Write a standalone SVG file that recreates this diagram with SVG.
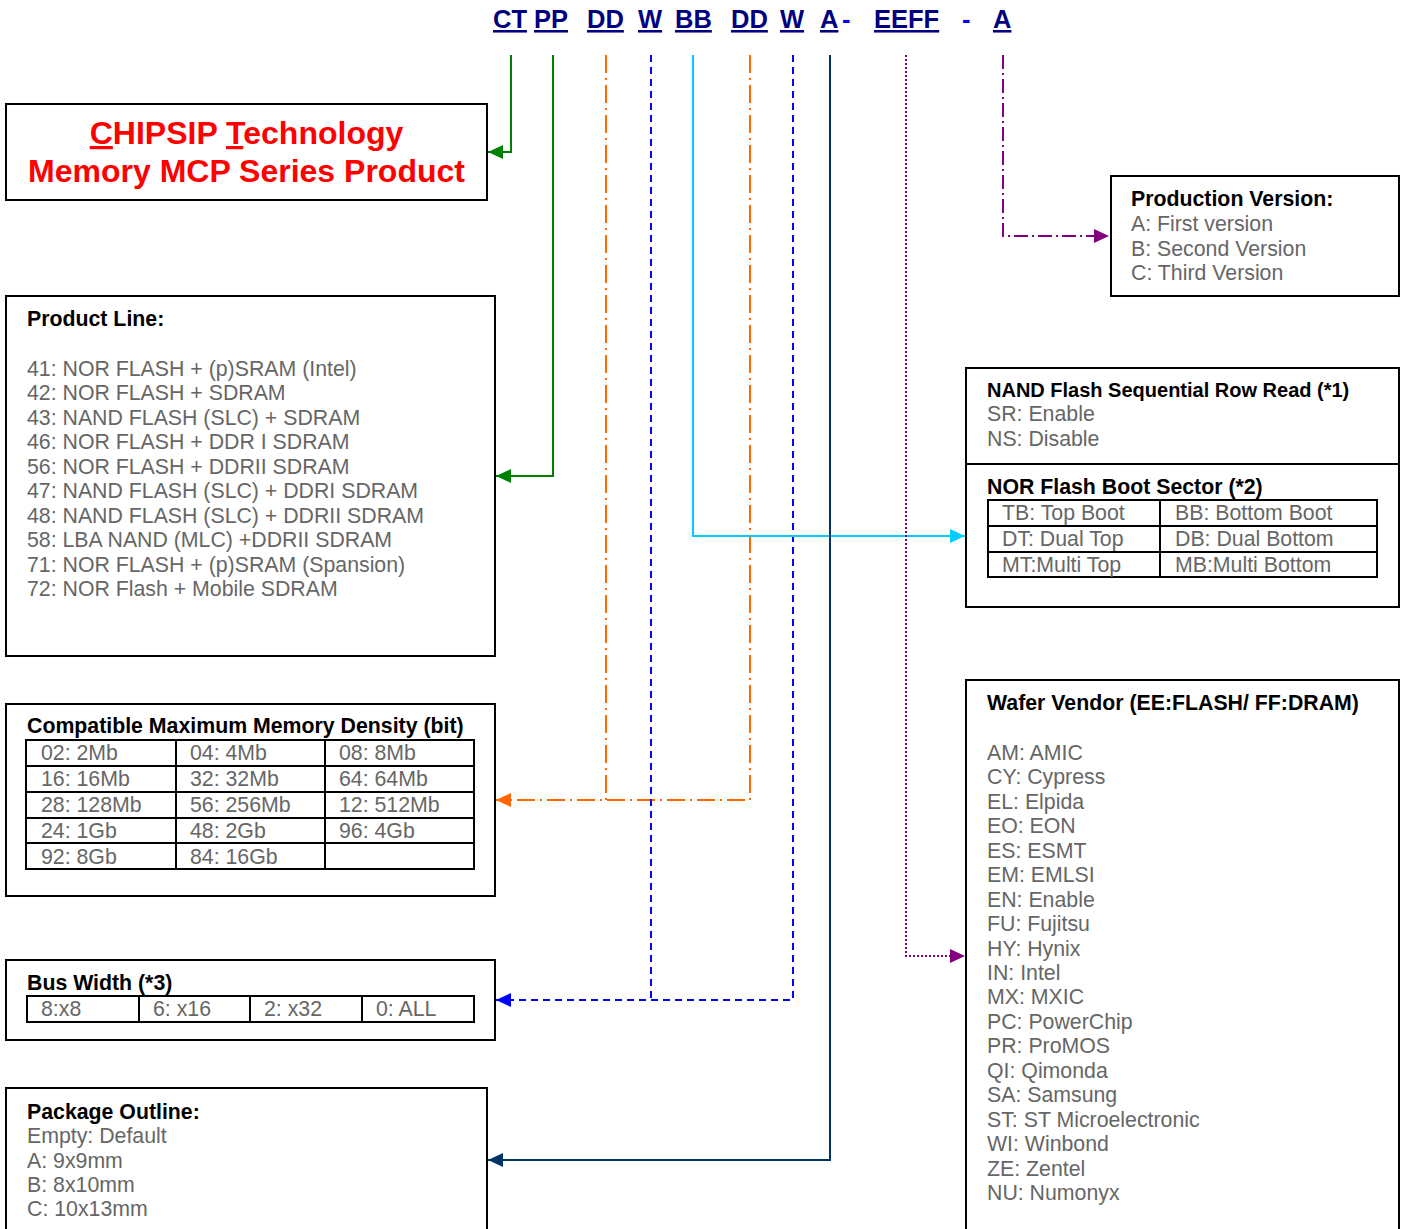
<svg xmlns="http://www.w3.org/2000/svg" width="1405" height="1229" viewBox="0 0 1405 1229">
<style>
text{font-family:"Liberation Sans",Arial,Helvetica,sans-serif;}
.box{fill:#fff;stroke:#000;stroke-width:2;}
.cell{fill:none;stroke:#000;stroke-width:2;}
.hd{font-size:21.3px;font-weight:bold;fill:#000;}
.hs{font-size:20px;font-weight:bold;fill:#000;}
.it{font-size:21.3px;fill:#666;}
.code{font-size:25.5px;font-weight:bold;fill:#000080;text-decoration:underline;}
.dash{font-size:25.5px;font-weight:bold;fill:#0000FF;}
.ttl{font-size:32px;font-weight:bold;fill:#FF0000;}
.c{fill:none;stroke-width:2;}
</style>
<defs>
<marker id="aG" markerUnits="userSpaceOnUse" markerWidth="16" markerHeight="14" refX="15" refY="7" orient="auto"><path d="M0,0 L15,7 L0,14 z" fill="#008000"/></marker>
<marker id="aO" markerUnits="userSpaceOnUse" markerWidth="16" markerHeight="14" refX="15" refY="7" orient="auto"><path d="M0,0 L15,7 L0,14 z" fill="#FF6600"/></marker>
<marker id="aB" markerUnits="userSpaceOnUse" markerWidth="16" markerHeight="14" refX="15" refY="7" orient="auto"><path d="M0,0 L15,7 L0,14 z" fill="#0000FF"/></marker>
<marker id="aC" markerUnits="userSpaceOnUse" markerWidth="16" markerHeight="14" refX="15" refY="7" orient="auto"><path d="M0,0 L15,7 L0,14 z" fill="#00CCFF"/></marker>
<marker id="aN" markerUnits="userSpaceOnUse" markerWidth="16" markerHeight="14" refX="15" refY="7" orient="auto"><path d="M0,0 L15,7 L0,14 z" fill="#003366"/></marker>
<marker id="aP" markerUnits="userSpaceOnUse" markerWidth="16" markerHeight="14" refX="15" refY="7" orient="auto"><path d="M0,0 L15,7 L0,14 z" fill="#800080"/></marker>
</defs>
<rect width="1405" height="1229" fill="#fff"/>

<g id="header">
<text class="code" x="493" y="28">CT</text>
<text class="code" x="534" y="28">PP</text>
<text class="code" x="587" y="28">DD</text>
<text class="code" x="638" y="28">W</text>
<text class="code" x="675" y="28">BB</text>
<text class="code" x="731" y="28">DD</text>
<text class="code" x="780" y="28">W</text>
<text class="code" x="820" y="28">A</text>
<text class="dash" x="842" y="28">-</text>
<text class="code" x="874" y="28">EEFF</text>
<text class="dash" x="962" y="28">-</text>
<text class="code" x="993" y="28">A</text>
</g>

<g id="connectors">
<path class="c" stroke="#008000" d="M511,55 V152 H488" marker-end="url(#aG)"/>
<path class="c" stroke="#008000" d="M553,55 V476 H496" marker-end="url(#aG)"/>
<path class="c" stroke="#FF6600" stroke-dasharray="18,5,2,5" d="M606,55 V800"/>
<path class="c" stroke="#FF6600" stroke-dasharray="18,5,2,5" d="M750,55 V800 H496" marker-end="url(#aO)"/>
<path class="c" stroke="#0000FF" stroke-dasharray="7,5" d="M651,55 V1000"/>
<path class="c" stroke="#0000FF" stroke-dasharray="7,5" d="M793,55 V1000 H496" marker-end="url(#aB)"/>
<path class="c" stroke="#00CCFF" d="M693,55 V536 H965" marker-end="url(#aC)"/>
<path class="c" stroke="#003366" d="M830,55 V1160 H488" marker-end="url(#aN)"/>
<path class="c" stroke="#800080" stroke-dasharray="2,2" d="M906,55 V956 H965" marker-end="url(#aP)"/>
<path class="c" stroke="#800080" stroke-dasharray="14,4,2,4" d="M1003,55 V236 H1109" marker-end="url(#aP)"/>
</g>

<g id="title">
<rect class="box" x="6" y="104" width="481" height="96"/>
<text class="ttl" x="246.5" y="144" text-anchor="middle"><tspan text-decoration="underline">C</tspan>HIPSIP <tspan text-decoration="underline">T</tspan>echnology</text>
<text class="ttl" x="246.5" y="182" text-anchor="middle">Memory MCP Series Product</text>
</g>

<g id="product-line">
<rect class="box" x="6" y="296" width="489" height="360"/>
<text class="hd" x="27" y="326">Product Line:</text>
<text class="it" x="27" y="376">41: NOR FLASH + (p)SRAM (Intel)</text>
<text class="it" x="27" y="400.4">42: NOR FLASH + SDRAM</text>
<text class="it" x="27" y="424.9">43: NAND FLASH (SLC) + SDRAM</text>
<text class="it" x="27" y="449.3">46: NOR FLASH + DDR I SDRAM</text>
<text class="it" x="27" y="473.8">56: NOR FLASH + DDRII SDRAM</text>
<text class="it" x="27" y="498.2">47: NAND FLASH (SLC) + DDRI SDRAM</text>
<text class="it" x="27" y="522.6">48: NAND FLASH (SLC) + DDRII SDRAM</text>
<text class="it" x="27" y="547.1">58: LBA NAND (MLC) +DDRII SDRAM</text>
<text class="it" x="27" y="571.5">71: NOR FLASH + (p)SRAM (Spansion)</text>
<text class="it" x="27" y="596">72: NOR Flash + Mobile SDRAM</text>
</g>

<g id="density">
<rect class="box" x="6" y="704" width="489" height="192"/>
<text class="hd" x="27" y="733">Compatible Maximum Memory Density (bit)</text>
<rect class="cell" x="26" y="740" width="448" height="129"/>
<path class="cell" d="M26,766 H474 M26,792 H474 M26,818 H474 M26,843 H474 M176,740 V869 M325,740 V869"/>
<text class="it" x="41" y="760">02: 2Mb</text>
<text class="it" x="190" y="760">04: 4Mb</text>
<text class="it" x="339" y="760">08: 8Mb</text>
<text class="it" x="41" y="786">16: 16Mb</text>
<text class="it" x="190" y="786">32: 32Mb</text>
<text class="it" x="339" y="786">64: 64Mb</text>
<text class="it" x="41" y="812">28: 128Mb</text>
<text class="it" x="190" y="812">56: 256Mb</text>
<text class="it" x="339" y="812">12: 512Mb</text>
<text class="it" x="41" y="838">24: 1Gb</text>
<text class="it" x="190" y="838">48: 2Gb</text>
<text class="it" x="339" y="838">96: 4Gb</text>
<text class="it" x="41" y="864">92: 8Gb</text>
<text class="it" x="190" y="864">84: 16Gb</text>
</g>

<g id="bus-width">
<rect class="box" x="6" y="960" width="489" height="80"/>
<text class="hd" x="27" y="990">Bus Width (*3)</text>
<rect class="cell" x="27" y="996" width="447" height="26"/>
<path class="cell" d="M139,996 V1022 M250,996 V1022 M362,996 V1022"/>
<text class="it" x="41" y="1016">8:x8</text>
<text class="it" x="153" y="1016">6: x16</text>
<text class="it" x="264" y="1016">2: x32</text>
<text class="it" x="376" y="1016">0: ALL</text>
</g>

<g id="package-outline">
<rect class="box" x="6" y="1088" width="481" height="160"/>
<text class="hd" x="27" y="1119">Package Outline:</text>
<text class="it" x="27" y="1143">Empty: Default</text>
<text class="it" x="27" y="1168">A: 9x9mm</text>
<text class="it" x="27" y="1192">B: 8x10mm</text>
<text class="it" x="27" y="1216">C: 10x13mm</text>
</g>

<g id="production-version">
<rect class="box" x="1111" y="176" width="288" height="120"/>
<text class="hd" x="1131" y="206">Production Version:</text>
<text class="it" x="1131" y="231">A: First version</text>
<text class="it" x="1131" y="255.5">B: Second Version</text>
<text class="it" x="1131" y="280">C: Third Version</text>
</g>

<g id="flash-options">
<rect class="box" x="966" y="368" width="433" height="239"/>
<path class="cell" d="M966,464 H1399"/>
<text class="hs" x="987" y="397">NAND Flash Sequential Row Read (*1)</text>
<text class="it" x="987" y="421">SR: Enable</text>
<text class="it" x="987" y="445.5">NS: Disable</text>
<text class="hd" x="987" y="494">NOR Flash Boot Sector (*2)</text>
<rect class="cell" x="988" y="500" width="389" height="77"/>
<path class="cell" d="M988,526 H1377 M988,552 H1377 M1160,500 V577"/>
<text class="it" x="1002" y="520">TB: Top Boot</text>
<text class="it" x="1175" y="520">BB: Bottom Boot</text>
<text class="it" x="1002" y="546">DT: Dual Top</text>
<text class="it" x="1175" y="546">DB: Dual Bottom</text>
<text class="it" x="1002" y="572">MT:Multi Top</text>
<text class="it" x="1175" y="572">MB:Multi Bottom</text>
</g>

<g id="wafer-vendor">
<rect class="box" x="966" y="680" width="433" height="570"/>
<text class="hd" x="987" y="710">Wafer Vendor (EE:FLASH/ FF:DRAM)</text>
<text class="it" x="987" y="760">AM: AMIC</text>
<text class="it" x="987" y="784.4">CY: Cypress</text>
<text class="it" x="987" y="808.9">EL: Elpida</text>
<text class="it" x="987" y="833.3">EO: EON</text>
<text class="it" x="987" y="857.8">ES: ESMT</text>
<text class="it" x="987" y="882.2">EM: EMLSI</text>
<text class="it" x="987" y="906.6">EN: Enable</text>
<text class="it" x="987" y="931.1">FU: Fujitsu</text>
<text class="it" x="987" y="955.5">HY: Hynix</text>
<text class="it" x="987" y="980">IN: Intel</text>
<text class="it" x="987" y="1004.4">MX: MXIC</text>
<text class="it" x="987" y="1028.8">PC: PowerChip</text>
<text class="it" x="987" y="1053.3">PR: ProMOS</text>
<text class="it" x="987" y="1077.7">QI: Qimonda</text>
<text class="it" x="987" y="1102.2">SA: Samsung</text>
<text class="it" x="987" y="1126.6">ST: ST Microelectronic</text>
<text class="it" x="987" y="1151">WI: Winbond</text>
<text class="it" x="987" y="1175.5">ZE: Zentel</text>
<text class="it" x="987" y="1200">NU: Numonyx</text>
</g>
</svg>
